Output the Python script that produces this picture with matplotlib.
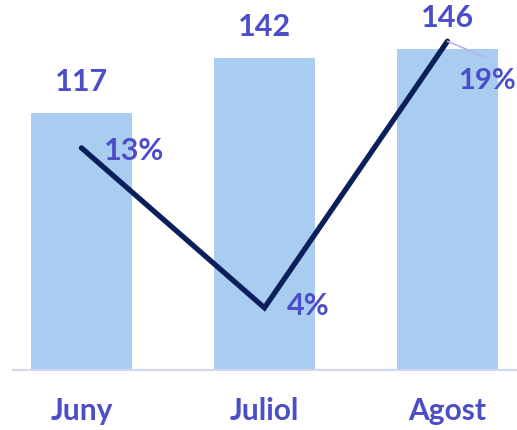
import matplotlib
matplotlib.use("Agg")
import matplotlib.pyplot as plt
import matplotlib.transforms as mtransforms

categories = ["Juny", "Juliol", "Agost"]
bar_values = [117, 142, 146]
pct_values = [13, 4, 19]
pct_labels = ["13%", "4%", "19%"]

BAR = "#a8cdf0"
LINE = "#0b1f5c"
TXT = "#4b4ec6"
AXIS = "#d4d7f2"
FONT = "Lato"

fig = plt.figure(figsize=(5.17, 4.30), dpi=100)
ax = fig.add_axes([13/517, 60/430, 504/517, 370/430])
x = list(range(len(categories)))
ax.bar(x, bar_values, width=0.55, color=BAR, zorder=2)
ax.set_xlim(-0.374, 2.38)
ax.set_ylim(0, 168.4)
for s in ["top", "right", "left"]:
    ax.spines[s].set_visible(False)
ax.spines["bottom"].set_color(AXIS)
ax.spines["bottom"].set_linewidth(1.5)
ax.set_yticks([])
ax.set_xticks([])
trans = mtransforms.blended_transform_factory(ax.transData, fig.transFigure)
for xi, c in zip(x, categories):
    ax.text(xi, 1 - 411/430, c, transform=trans, ha="center", va="center",
            fontsize=21.5, fontweight="bold", color=TXT, family=FONT)
for xi, v in zip(x, bar_values):
    ax.annotate(str(v), (xi, v), xytext=(0, 31), textcoords="offset pixels",
                ha="center", va="center", fontsize=22, fontweight="bold",
                color=TXT, family=FONT)

ax2 = ax.twinx()
ax2.set_ylim(0.5, 21.32)
ax2.axis("off")
ax2.plot(x, pct_values, color=LINE, linewidth=3.8, solid_capstyle="round",
         solid_joinstyle="miter", zorder=3)
offsets = [(23, -3), (22, 2), (11, -40)]
sizes = [22, 22, 21]
for xi, v, lab, off, fs in zip(x, pct_values, pct_labels, offsets, sizes):
    if lab == "19%":
        ax2.annotate("", (xi, v), xytext=(40, -17), textcoords="offset pixels",
                     arrowprops=dict(arrowstyle="-", color="#b9b4e6", lw=1.2,
                                     shrinkA=0, shrinkB=0))
    ax2.annotate(lab, (xi, v), xytext=off, textcoords="offset pixels",
                 ha="left", va="center", fontsize=fs, fontweight="bold",
                 color=TXT, family=FONT)

fig.savefig("out.png", dpi=100)
